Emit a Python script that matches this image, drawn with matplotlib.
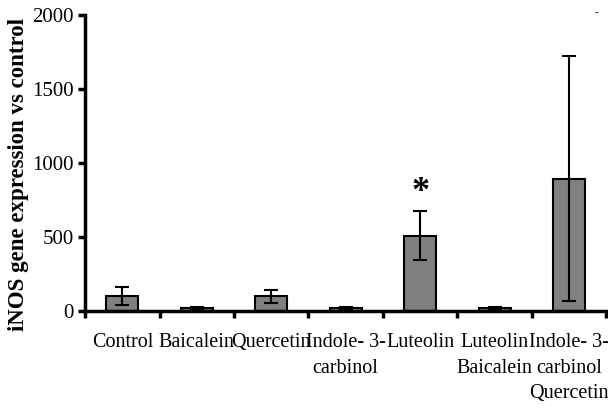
import numpy as np
import matplotlib.pyplot as plt

categories = ["Control", "Baicalein", "Quercetin", "Indole- 3-\ncarbinol", "Luteolin",
              "Luteolin\nBaicalein", "Indole- 3-\ncarbinol\nQuercetin"]
means = [100, 20, 100, 20, 510, 20, 895]
errors = [62, 5, 45, 10, 165, 10, 830]
star_idx = 4
star_y = 800

plt.rcParams['font.family'] = ['Liberation Serif', 'DejaVu Serif']

fig = plt.figure(figsize=(6.08, 4.09), dpi=100)
ax = fig.add_axes([0.14, 0.2396, 0.857, 0.7237])

x = np.arange(len(categories))
ax.bar(x, means, width=0.43, color='#808080', edgecolor='black', linewidth=1.5,
       yerr=errors, capsize=4.8, error_kw=dict(elinewidth=1.5, capthick=1.5, ecolor='black'))
ax.text(star_idx, star_y, '*', ha='center', va='center', fontsize=26, fontweight='bold')

ax.set_xlim(-0.5, len(categories) - 0.5)
ax.set_ylim(0, 2000)
ax.set_yticks([0, 500, 1000, 1500, 2000])
ax.set_xticks(x)
ax.set_xticklabels(categories, fontsize=14.5, linespacing=1.45)
ax.set_xticks(np.arange(len(categories) + 1) - 0.5, minor=True)
ax.tick_params(axis='x', which='major', length=0, pad=16)
ax.tick_params(axis='x', which='minor', length=5, width=2.5, direction='out')
ax.tick_params(axis='y', labelsize=15, length=5, width=2.5, pad=3)

for s in ['top', 'right']:
    ax.spines[s].set_visible(False)
for s in ['left', 'bottom']:
    ax.spines[s].set_linewidth(2.5)

ax.set_ylabel('iNOS gene expression vs control', fontsize=16.5, fontweight='bold')
ax.yaxis.set_label_coords(-0.107, 0.46)

fig.text(596 / 608, 1 - 13 / 409, '-', fontsize=8, ha='center', va='center')

fig.savefig('out.png', dpi=100)
